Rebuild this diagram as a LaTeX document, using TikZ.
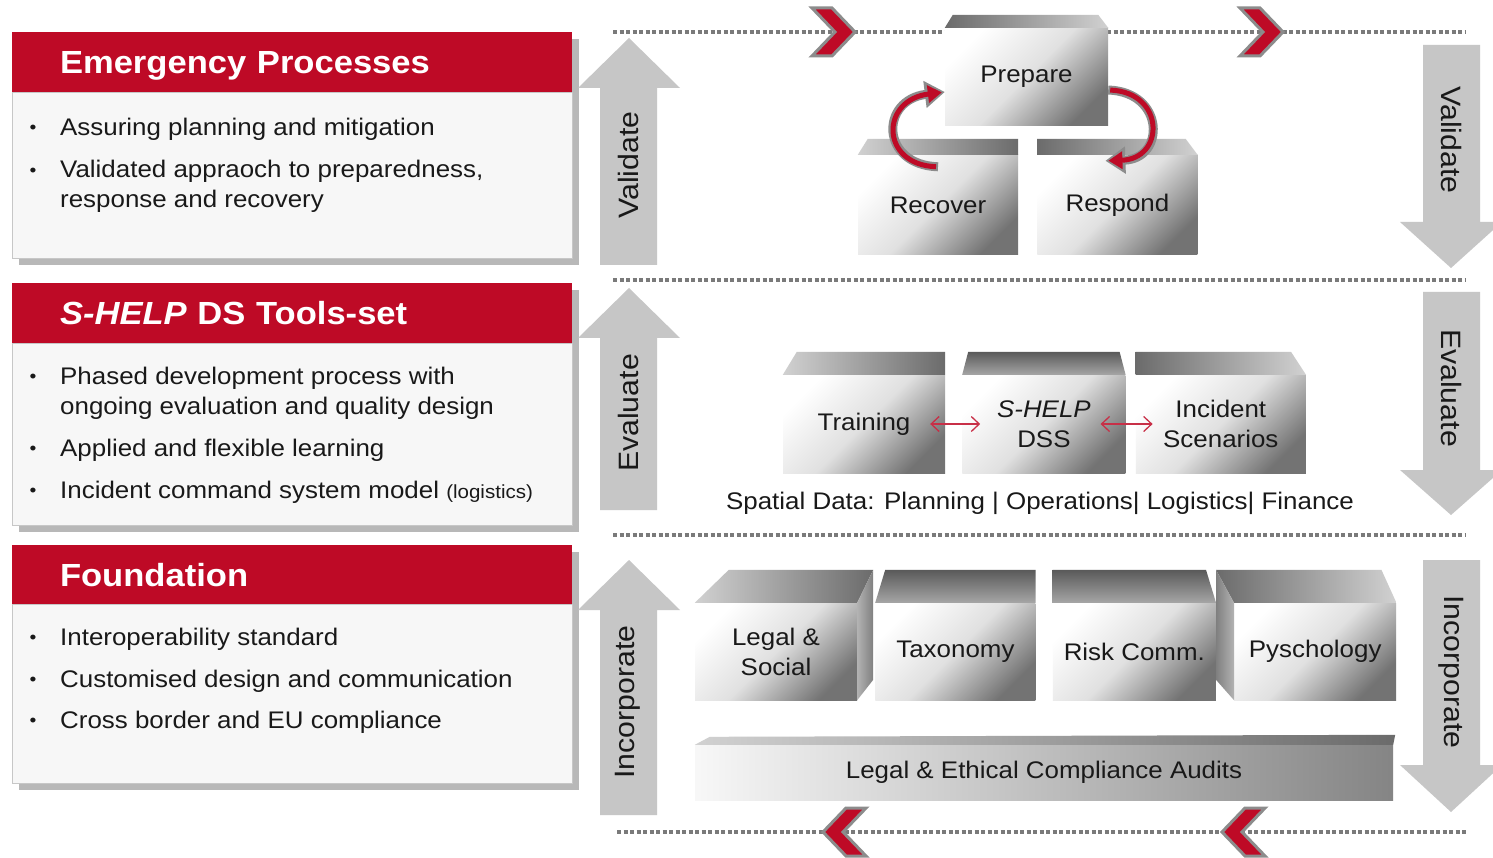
\documentclass[tikz,border=0pt]{standalone}
\usepackage{fontspec}
\setmainfont[FakeStretch=1.08]{Liberation Sans}
\usetikzlibrary{arrows.meta,shadows,positioning}

\definecolor{shred}{HTML}{BE0A26}
\definecolor{arrowgray}{HTML}{C6C6C6}
\definecolor{dotgray}{HTML}{7A7A7A}

\newcommand{\paneltitlefont}{\fontsize{32}{38}\selectfont\bfseries}
\newcommand{\panelfont}{\fontsize{24}{30}\selectfont}
\newcommand{\boxfont}{\fontsize{24}{30}\selectfont}
\newcommand{\arrowfont}{\fontsize{28}{32}\selectfont}

\begin{document}
\begin{tikzpicture}[x=1pt,y=-1pt]
  \useasboundingbox (0,0) rectangle (1493,858);
  \fill[white] (0,0) rectangle (1493,858);

  \tikzstyle{every node}=[text=black!90]
  \tikzstyle{panelhead}=[fill=shred, text=white, text width=464pt, inner xsep=48pt, inner ysep=0pt, minimum height=60pt, text height=23pt, text depth=0pt, align=left, font=\paneltitlefont, drop shadow={shadow xshift=7pt,shadow yshift=-7pt,fill=black!28,opacity=1}]
  \tikzstyle{panelbody}=[fill=black!3, draw=black!22, minimum width=560pt, inner sep=0pt, drop shadow={shadow xshift=7pt,shadow yshift=-7pt,fill=black!28,opacity=1}]
  \tikzstyle{itemtext}=[anchor=west, inner sep=0pt, align=left, font=\panelfont]
  \tikzstyle{bulletpt}=[inner sep=0pt, font=\fontsize{18}{18}\selectfont]
  \tikzstyle{bigarrow}=[fill=arrowgray]
  \tikzstyle{arrowlabel}=[inner sep=0pt, font=\arrowfont]
  \tikzstyle{dotline}=[draw=dotgray, line width=3.5pt, dash pattern=on 4pt off 2.5pt]
  \tikzstyle{chevron}=[fill=shred, draw=black!45, line width=3pt, line join=miter]
  \tikzstyle{frontface}=[top color=white, bottom color=black!55, middle color=black!12, shading angle=45, inner sep=0pt, align=center, font=\boxfont, minimum width=162pt, minimum height=98pt]
  \tikzstyle{darkleft}=[left color=black!58, right color=black!18]
  \tikzstyle{darkright}=[left color=black!18, right color=black!58]
  \tikzstyle{darktop}=[top color=black!65, bottom color=black!35]
  \tikzstyle{cyclegray}=[draw=black!45, line width=9pt, -{Triangle[length=20pt,width=26pt]}]
  \tikzstyle{cyclered}=[draw=shred, line width=5pt, shorten >=3pt, shorten <=2pt, -{Triangle[length=14pt,width=17pt]}]
  \tikzstyle{linkarrow}=[draw=shred!85, line width=1.3pt, <->, >={Straight Barb[length=8pt,width=15pt]}]

  % panneau Emergency Processes
  \node[panelhead] (ephead) at (292,62) {Emergency Processes};
  \node[panelbody, minimum height=166pt] (epbody) at (292,175) {};
  \node[itemtext] (ep1) at (60,129) {Assuring planning and mitigation};
  \node[itemtext] (ep2) at (60,186.5) {Validated appraoch to preparedness,\\response and recovery};
  \foreach \y/\n in {129/1,172/2} {\node[bulletpt] (epb\n) at (33,\y) {•};}

  % panneau Tools-set
  \node[panelhead] (tshead) at (292,313.5) {\textit{S-HELP} DS Tools-set};
  \node[panelbody, minimum height=182pt] (tsbody) at (292,434) {};
  \node[itemtext] (ts1) at (60,393) {Phased development process with\\ongoing evaluation and quality design};
  \node[itemtext] (ts2) at (60,450) {Applied and flexible learning};
  \node[itemtext] (ts3) at (60,492) {Incident command system model {\fontsize{19}{22}\selectfont (logistics)}};
  \foreach \y/\n in {378/1,450/2,492/3} {\node[bulletpt] (tsb\n) at (33,\y) {•};}

  % panneau Foundation
  \node[panelhead] (fdhead) at (292,574.5) {Foundation};
  \node[panelbody, minimum height=179pt] (fdbody) at (292,693.5) {};
  \node[itemtext] (fd1) at (60,639) {Interoperability standard};
  \node[itemtext] (fd2) at (60,681) {Customised design and communication};
  \node[itemtext] (fd3) at (60,722) {Cross border and EU compliance};
  \foreach \y/\n in {639/1,681/2,722/3} {\node[bulletpt] (fdb\n) at (33,\y) {•};}

  % grandes fleches
  \foreach \t/\b in {38/265,288/510,560/815}{
    \fill[bigarrow] (600,\b) -- (600,\t+50) -- (578,\t+50) -- (629,\t) -- (680,\t+50) -- (657,\t+50) -- (657,\b) -- cycle;
  }
  \foreach \t/\h/\p in {45/222/268,292/470/515,560/765/812}{
    \fill[bigarrow] (1423,\t) -- (1423,\h) -- (1400,\h) -- (1451,\p) -- (1502,\h) -- (1480,\h) -- (1480,\t) -- cycle;
  }
  \node[arrowlabel, rotate=90] (valup) at (628,165) {Validate};
  \node[arrowlabel, rotate=90] (evup) at (628,413) {Evaluate};
  \node[arrowlabel, rotate=90] (incup) at (628,702) {Incorporate};
  \node[arrowlabel, rotate=-90] (valdown) at (1451,140) {Validate};
  \node[arrowlabel, rotate=-90] (evdown) at (1451,388) {Evaluate};
  \node[arrowlabel, rotate=-90] (incdown) at (1451,672) {Incorporate};

  % lignes pointillees et chevrons
  \foreach \y in {32,280,535} {\draw[dotline] (613,\y) -- (1465,\y);}
  \draw[dotline] (617,832) -- (1468,832);
  \foreach \x in {855,1283} {
    \draw[chevron] (\x,32) -- ++(-23,-24) -- ++(-20,0) -- ++(23,24) -- ++(-23,24) -- ++(20,0) -- cycle;
  }
  \foreach \x in {823,1222} {
    \draw[chevron] (\x,832) -- ++(23,-24) -- ++(20,0) -- ++(-23,24) -- ++(23,24) -- ++(-20,0) -- cycle;
  }

  % cycle
  \node[frontface, minimum width=163pt] (prepare) at (1026.5,77) {Prepare};
  \node[frontface, minimum width=160pt, minimum height=100pt] (recover) at (938,205) {Recover};
  \node[frontface, minimum width=160pt, minimum height=100pt, right=19pt of recover] (respond) {Respond};
  \shade[darkleft] (prepare.north west) -- ++(8,-13) -- ([xshift=-10pt,yshift=13pt]prepare.north east) -- (prepare.north east) -- cycle;
  \shade[darkright] (recover.north west) -- ++(10,-16) -- ([yshift=16pt]recover.north east) -- (recover.north east) -- cycle;
  \shade[darkleft] (respond.north west) -- ++(0,-16) -- ([xshift=-12pt,yshift=16pt]respond.north east) -- (respond.north east) -- cycle;

  % outils
  \node[frontface] (training) at (864,424) {Training};
  \node[frontface, minimum width=163pt, right=17pt of training] (shelp) {\textit{S-HELP}\\DSS};
  \node[frontface, minimum width=170pt, right=10pt of shelp] (incident) {Incident\\Scenarios};
  \shade[darkright] (training.north west) -- ++(14,-23) -- ([yshift=23pt]training.north east) -- (training.north east) -- cycle;
  \shade[darktop] (shelp.north west) -- ++(6,-23) -- ([xshift=-6pt,yshift=23pt]shelp.north east) -- (shelp.north east) -- cycle;
  \shade[darkleft] (incident.north west) -- ++(0,-23) -- ([xshift=-15pt,yshift=23pt]incident.north east) -- (incident.north east) -- cycle;
  \node[font=\boxfont] (spatial) at (1040,503) {Spatial Data: Planning | Operations| Logistics| Finance};

  % fondations
  \node[frontface, minimum height=97pt] (legsoc) at (776,651.5) {Legal \&\\Social};
  \node[frontface, minimum width=160pt, minimum height=97pt, right=18pt of legsoc] (taxonomy) {Taxonomy};
  \node[frontface, minimum width=163pt, minimum height=97pt, right=17pt of taxonomy] (riskcomm) {Risk Comm.};
  \node[frontface, minimum height=97pt, right=18pt of riskcomm] (psych) {Pyschology};
  \shade[darkright] (legsoc.north west) -- ++(34,-33) -- ([xshift=16pt,yshift=33pt]legsoc.north east) -- (legsoc.north east) -- cycle;
  \shade[left color=black!30, right color=black!50] (legsoc.north east) -- ++(16,-33) -- ++(0,110) -- (legsoc.south east) -- cycle;
  \shade[darktop] (taxonomy.north west) -- ++(10,-33) -- ([yshift=33pt]taxonomy.north east) -- (taxonomy.north east) -- cycle;
  \shade[darktop] (riskcomm.north west) -- ++(0,-33) -- ([xshift=-10pt,yshift=33pt]riskcomm.north east) -- (riskcomm.north east) -- cycle;
  \shade[darkleft] (psych.north west) -- ++(-18,-33) -- ([xshift=-15pt,yshift=33pt]psych.north east) -- (psych.north east) -- cycle;
  \shade[left color=black!50, right color=black!30] (psych.north west) -- ++(-18,-33) -- ++(0,110) -- (psych.south west) -- cycle;
  \node[frontface, left color=black!3, right color=black!48, minimum width=698pt, minimum height=55pt] (audits) at (1044,772.5) {Legal \& Ethical Compliance Audits};
  \shade[darkright] (audits.north west) -- ++(15,-8) -- ([xshift=2pt,yshift=10pt]audits.north east) -- (audits.north east) -- cycle;

  % fleches
  \draw[cyclegray] ([yshift=-12pt]recover.north) .. controls +(-58,-2) and +(-65,8) .. ([yshift=-15pt]prepare.west);
  \draw[cyclered] ([yshift=-12pt]recover.north) .. controls +(-58,-2) and +(-65,8) .. ([yshift=-15pt]prepare.west);
  \draw[cyclegray] ([yshift=-13pt]prepare.east) .. controls +(57,2) and +(60,-2) .. ([xshift=-12pt,yshift=-6pt]respond.north);
  \draw[cyclered] ([yshift=-13pt]prepare.east) .. controls +(57,2) and +(60,-2) .. ([xshift=-12pt,yshift=-6pt]respond.north);
  \draw[linkarrow] ([xshift=-15pt]training.east) -- ([xshift=18pt]shelp.west);
  \draw[linkarrow] ([xshift=-25pt]shelp.east) -- ([xshift=17pt]incident.west);
\end{tikzpicture}
\end{document}
